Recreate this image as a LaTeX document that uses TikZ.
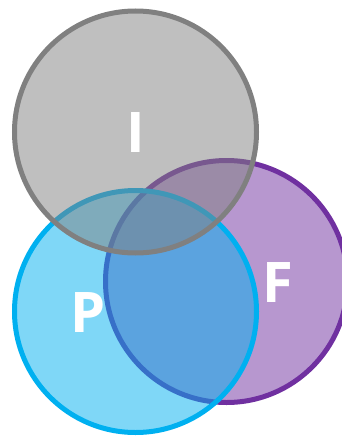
\documentclass[tikz,border=0pt]{standalone}
\usepackage{fontspec}
\setmainfont{Open Sans}
\definecolor{grayc}{HTML}{808080}
\definecolor{purplec}{HTML}{7030A0}
\definecolor{bluec}{HTML}{00B0F0}
\tikzset{
  venn/.style={line width=5pt, fill opacity=0.5},
  lbl/.style={text=white, font=\fontsize{56}{56}\selectfont\bfseries, inner sep=0pt}
}
\begin{document}
\begin{tikzpicture}[x=1pt,y=-1pt]
\useasboundingbox (0,0) rectangle (342,436);
\draw[venn, draw=purplec, fill=purplec] (226.5,281.5) circle (121);
\draw[venn, draw=bluec, fill=bluec] (135.5,311.5) circle (121);
\draw[venn, draw=grayc, fill=grayc] (135.5,132) circle (121);
\node[lbl] (I) at (136,133) {I};
\node[lbl] (F) at (278,283) {F};
\node[lbl] (P) at (88,313) {P};
\end{tikzpicture}
\end{document}
